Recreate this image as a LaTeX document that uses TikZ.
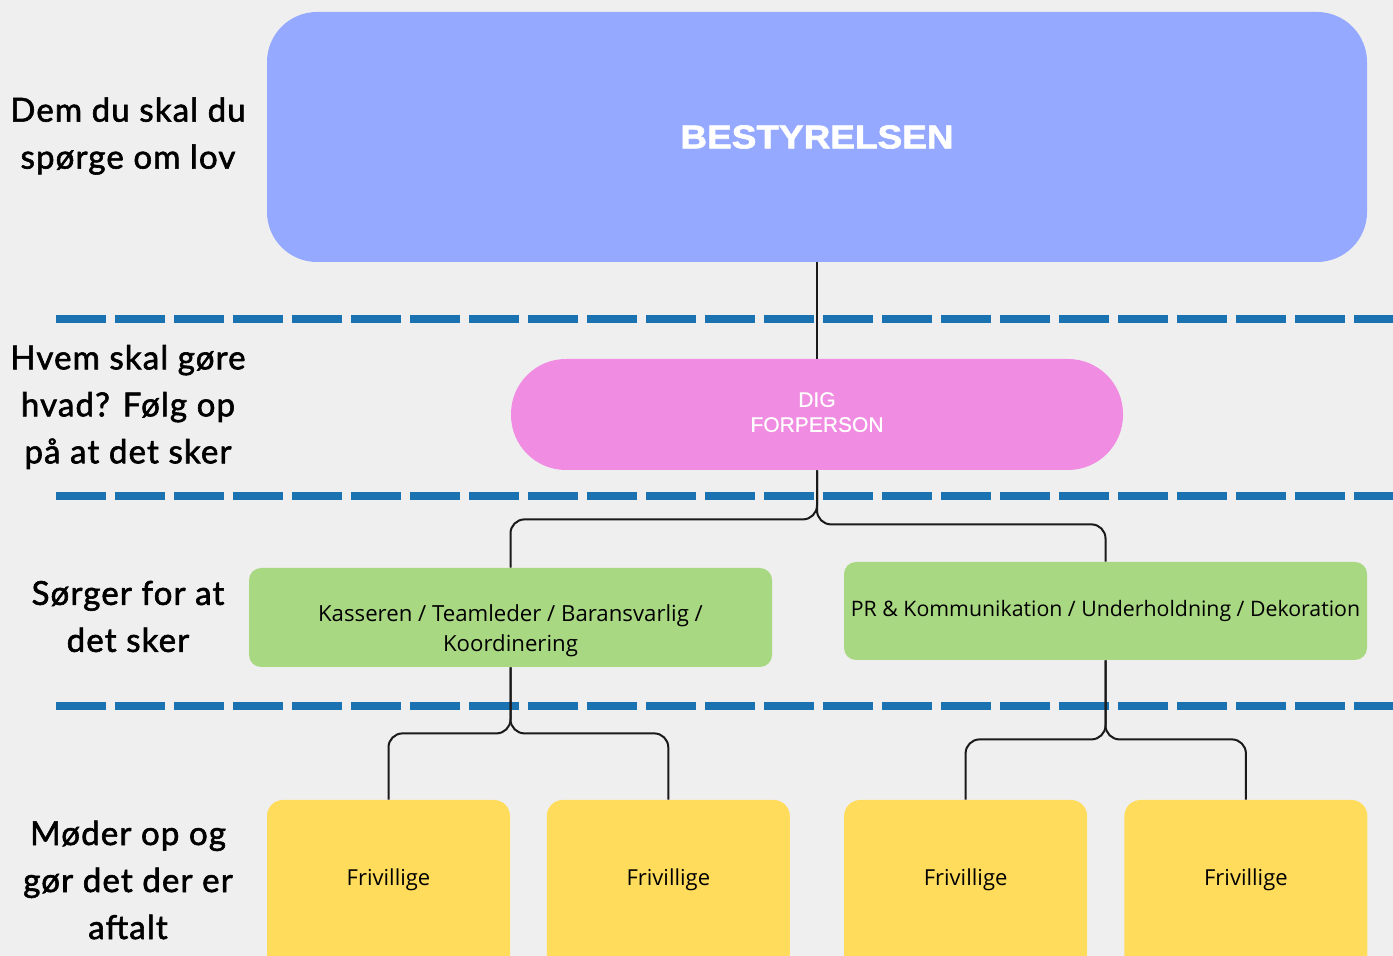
\documentclass[tikz,border=0pt]{standalone}
\usepackage{fontspec}
\setmainfont{Open Sans}
\newfontfamily\sidefont[FakeBold=1.8,LetterSpace=3.5]{Lato}
\newfontfamily\headfont[FakeStretch=1.12,FakeBold=2]{Liberation Sans}
\newfontfamily\pinkfont[FakeBold=0.6]{Liberation Sans}
\usepackage{xcolor}
\usetikzlibrary{positioning}

\definecolor{bgcol}{HTML}{EFEFEF}
\definecolor{boardcol}{HTML}{94A9FF}
\definecolor{digcol}{HTML}{F08DE2}
\definecolor{teamcol}{HTML}{A9D883}
\definecolor{frivcol}{HTML}{FFDC5C}
\definecolor{sepblue}{HTML}{1A72B0}
\definecolor{linecol}{HTML}{1A1A1A}

\begin{document}
\begin{tikzpicture}[x=0.5pt,y=-0.5pt,node distance=18pt]
  \tikzstyle{box}=[rectangle, inner sep=0pt, align=center]
  \tikzstyle{side}=[font=\sidefont\fontsize{16.5}{23.5}\selectfont, align=center]
  \tikzstyle{team}=[box, fill=teamcol, minimum width=261.5pt, rounded corners=6pt]
  \tikzstyle{friv}=[box, fill=frivcol, minimum width=121.5pt, minimum height=85pt, rounded corners=8pt, font=\fontsize{11}{13}\selectfont]
  \tikzstyle{link}=[draw=linecol, line width=1pt, rounded corners=7pt]
  \tikzstyle{sep}=[draw=sepblue, line width=4pt, dash pattern=on 25pt off 4.5pt]

  \useasboundingbox (0,0) rectangle (1393,956);
  \clip (0,0) rectangle (1393,956);
  \fill[bgcol] (0,0) rectangle (1393,956);

  % levels
  \draw[sep] (56,319) -- (1400,319);
  \draw[sep] (56,496) -- (1400,496);
  \draw[sep] (56,706) -- (1400,706);

  % boxes
  \node[box, fill=boardcol, minimum width=550pt, minimum height=125pt, rounded corners=25pt,
        text=white, font=\headfont\bfseries\fontsize{16.5}{20}\selectfont] (board) at (817,137) {BESTYRELSEN};
  \node[box, fill=digcol, minimum width=306pt, minimum height=55.5pt, rounded corners=27.5pt,
        text=white, font=\pinkfont\fontsize{10.5}{12.5}\selectfont] (dig) at (817,414.5) {\raisebox{2.5pt}{DIG}\\\raisebox{2.5pt}{FORPERSON}};

  \node[team, minimum height=49.5pt] (kas) at (510.5,617.5) {};
  \node[align=center, font=\fontsize{11.1}{15}\selectfont] (kastext) at (510.5,631)
        {Kasseren / Teamleder / Baransvarlig /\\Koordinering};
  \node[team, minimum height=49pt, font=\fontsize{10.65}{15}\selectfont] (pr) at (1105.5,611)
        {\raisebox{2pt}{PR \& Kommunikation / Underholdning / Dekoration}};

  \node[friv] (fri1) at (388.5,885) {\raisebox{8pt}{Frivillige}};
  \node[friv, right=of fri1] (fri2) {\raisebox{8pt}{Frivillige}};
  \node[friv, right=26.75pt of fri2] (fri3) {\raisebox{8pt}{Frivillige}};
  \node[friv, right=18.25pt of fri3] (fri4) {\raisebox{8pt}{Frivillige}};

  % connectors
  \draw[link] (board.south) -- (dig.north);
  \draw[link] (dig.south) -- ++(0,49) -| (kas.north);
  \draw[link] (dig.south) -- ++(0,54) -| (pr.north);
  \draw[link] (kas.south) -- ++(0,66) -| (fri1.north);
  \draw[link] (kas.south) -- ++(0,66) -| (fri2.north);
  \draw[link] (pr.south) -- ++(0,79) -| (fri3.north);
  \draw[link] (pr.south) -- ++(0,79) -| (fri4.north);

  % side labels
  \node[side] (askl) at (128,136) {Dem du skal du\\spørge om lov};
  \node[side] (whol) at (128,407) {Hvem skal gøre\\hvad? Følg op\\på at det sker};
  \node[side] (ensl) at (128,616.5) {Sørger for at\\det sker};
  \node[side] (dol) at (128,880) {Møder op og\\gør det der er\\aftalt};
\end{tikzpicture}
\end{document}
